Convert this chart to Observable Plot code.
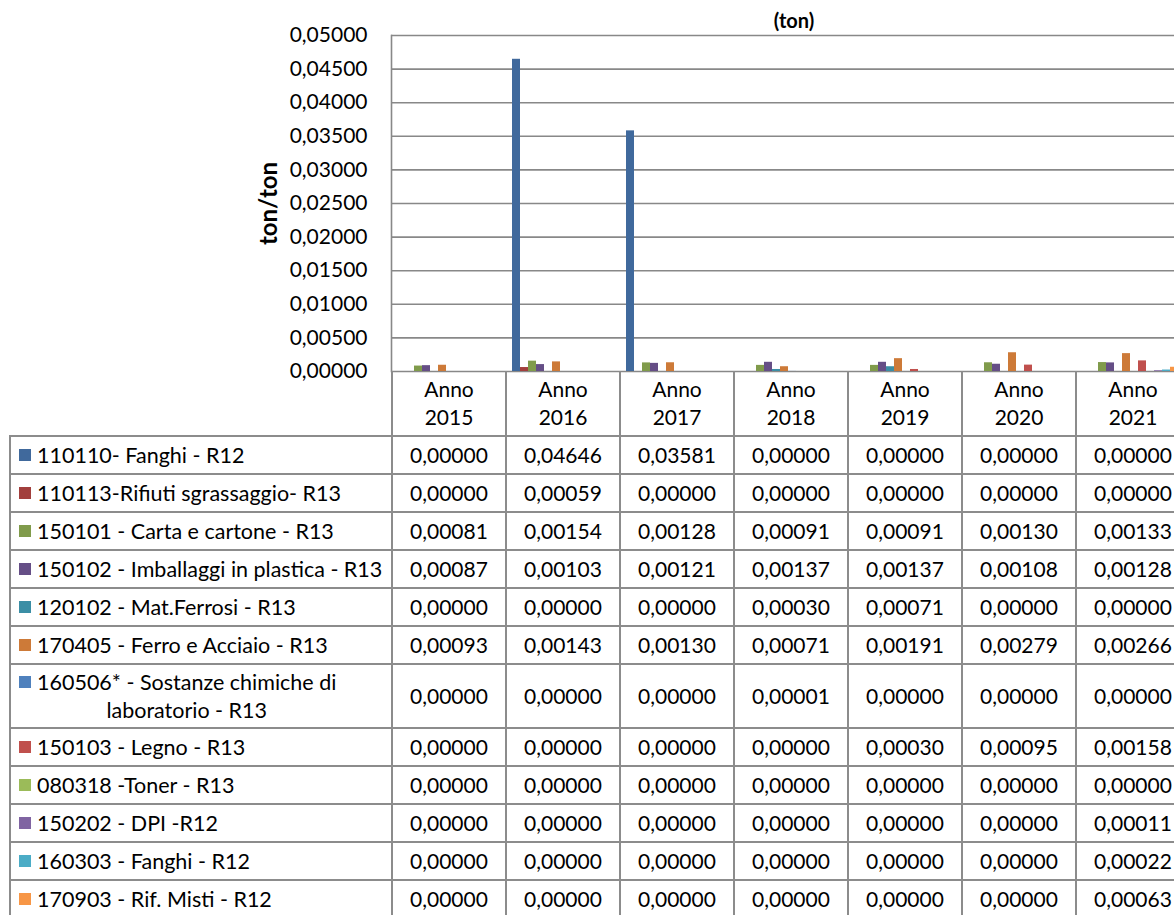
<!DOCTYPE html>
<html>
<head>
<meta charset="utf-8">
<script src="https://cdn.jsdelivr.net/npm/d3@7"></script>
<script src="https://cdn.jsdelivr.net/npm/@observablehq/plot@0.6"></script>
<style>
  html, body { margin: 0; padding: 0; background: #fff; }
  body { width: 1174px; height: 915px; overflow: hidden; font-family: Lato, "Open Sans", sans-serif; color: #000; }
  #wrap { position: relative; width: 1174px; height: 915px; overflow: hidden; }
  #chart { position: absolute; left: 0; top: 0; width: 1189px; height: 376px; }
  #chart svg { max-width: none !important; width: 1189px !important; height: 376px !important; }
  #title { position: absolute; top: 9px; left: 794px; transform: translateX(-50%); font-weight: bold; font-size: 20px; line-height: 22px; white-space: nowrap; }
  #chart g[aria-label="y-axis label"] text { font-weight: bold; font-size: 24px; }
  table { position: absolute; left: 9px; top: 371px; border-collapse: collapse; table-layout: fixed; }
  td { border: 2px solid #8c8c8c; text-align: center; font-size: 21px; padding: 0; box-sizing: border-box; }
  tr.hdr td { height: 65px; line-height: 28px; border-top: none; white-space: pre-line; }
  tr.hdr td.blank { border: none; border-bottom: 2px solid #8c8c8c; }
  tr.row td { height: 38px; line-height: 28px; }
  tr.row.tall td { height: 64px; }
  td.lab { text-align: left; padding-left: 8px; white-space: nowrap; font-size: 21.5px; }
  .key { display: inline-block; width: 12px; height: 12px; margin: 8px 6px 0 0; vertical-align: top; }
  .txt { display: inline-block; text-align: center; white-space: pre-line; vertical-align: top; }
</style>
</head>
<body>
<div id="wrap">
  <div id="chart"></div>
  <div id="title">(ton)</div>
  <table id="tbl"></table>
</div>
<script>
// ---- data ----
const years = ["Anno 2015", "Anno 2016", "Anno 2017", "Anno 2018", "Anno 2019", "Anno 2020", "Anno 2021"];
const series = [
  "110110- Fanghi - R12",
  "110113-Rifiuti sgrassaggio- R13",
  "150101 - Carta e cartone - R13",
  "150102 - Imballaggi in plastica - R13",
  "120102 - Mat.Ferrosi - R13",
  "170405 - Ferro e Acciaio - R13",
  "160506* - Sostanze chimiche di\nlaboratorio - R13",
  "150103 - Legno - R13",
  "080318 -Toner - R13",
  "150202 - DPI -R12",
  "160303 - Fanghi - R12",
  "170903 - Rif. Misti - R12"
];
const v110110 = [0.00000, 0.04646, 0.03581, 0.00000, 0.00000, 0.00000, 0.00000];
const v110113 = [0.00000, 0.00059, 0.00000, 0.00000, 0.00000, 0.00000, 0.00000];
const v150101 = [0.00081, 0.00154, 0.00128, 0.00091, 0.00091, 0.00130, 0.00133];
const v150102 = [0.00087, 0.00103, 0.00121, 0.00137, 0.00137, 0.00108, 0.00128];
const v120102 = [0.00000, 0.00000, 0.00000, 0.00030, 0.00071, 0.00000, 0.00000];
const v170405 = [0.00093, 0.00143, 0.00130, 0.00071, 0.00191, 0.00279, 0.00266];
const v160506 = [0.00000, 0.00000, 0.00000, 0.00001, 0.00000, 0.00000, 0.00000];
const v150103 = [0.00000, 0.00000, 0.00000, 0.00000, 0.00030, 0.00095, 0.00158];
const v080318 = [0.00000, 0.00000, 0.00000, 0.00000, 0.00000, 0.00000, 0.00000];
const v150202 = [0.00000, 0.00000, 0.00000, 0.00000, 0.00000, 0.00000, 0.00011];
const v160303 = [0.00000, 0.00000, 0.00000, 0.00000, 0.00000, 0.00000, 0.00022];
const v170903 = [0.00000, 0.00000, 0.00000, 0.00000, 0.00000, 0.00000, 0.00063];
const seriesValues = [v110110, v110113, v150101, v150102, v120102, v170405, v160506, v150103, v080318, v150202, v160303, v170903];
const colors = ["#40699C", "#A23F3D", "#809B4B", "#654E86", "#3B8EA5", "#CD7A38",
                "#4F81BD", "#C0504D", "#9BBB59", "#8064A2", "#4BACC6", "#F79646"];
const yTicks = [0, 0.005, 0.01, 0.015, 0.02, 0.025, 0.03, 0.035, 0.04, 0.045, 0.05];

// ---- build ----
const fmt = d => d.toFixed(5).replace(".", ",");
const rows = [];
series.forEach((s, i) => years.forEach((y, j) => rows.push({series: s, year: y, value: seriesValues[i][j]})));

const chart = Plot.plot({
  width: 1189,
  height: 376,
  marginLeft: 391,
  marginRight: 0,
  marginTop: 35,
  marginBottom: 5,
  style: {fontFamily: "Lato, sans-serif", fontSize: "21px", color: "#000", background: "transparent", overflow: "visible", maxWidth: "none"},
  fx: {domain: years, padding: 0, axis: null},
  x: {domain: series, paddingInner: 0, paddingOuter: 0.9, align: 0.4, axis: null},
  y: {domain: [0, 0.05], ticks: yTicks, tickFormat: fmt, tickSize: 0, tickPadding: 24,
      label: "ton/ton", labelAnchor: "center", labelArrow: false, labelOffset: 132},
  color: {domain: series, range: colors},
  marks: [
    Plot.ruleY(yTicks, {stroke: "#888888", strokeWidth: 1.6}),
    Plot.barY(rows, {fx: "year", x: "series", y: "value", fill: "series"}),
    Plot.frame({anchor: "left", facetAnchor: "left", stroke: "#888888", strokeWidth: 1.6})
  ]
});
document.getElementById("chart").appendChild(chart);

// data table
const tbl = document.getElementById("tbl");
const colgroup = document.createElement("colgroup");
const c0 = document.createElement("col"); c0.style.width = "382px"; colgroup.appendChild(c0);
years.forEach(() => { const c = document.createElement("col"); c.style.width = "114px"; colgroup.appendChild(c); });
tbl.appendChild(colgroup);
tbl.style.width = (382 + 114 * years.length) + "px";

const hdr = document.createElement("tr"); hdr.className = "hdr";
const blank = document.createElement("td"); blank.className = "blank"; hdr.appendChild(blank);
years.forEach(y => { const td = document.createElement("td"); td.textContent = y.replace(" ", "\n"); hdr.appendChild(td); });
tbl.appendChild(hdr);

series.forEach((s, i) => {
  const tr = document.createElement("tr");
  tr.className = "row" + (s.includes("\n") ? " tall" : "");
  const lab = document.createElement("td"); lab.className = "lab";
  const key = document.createElement("span"); key.className = "key"; key.style.background = colors[i];
  const txt = document.createElement("span"); txt.className = "txt"; txt.textContent = s;
  lab.appendChild(key); lab.appendChild(txt);
  tr.appendChild(lab);
  seriesValues[i].forEach(v => { const td = document.createElement("td"); td.textContent = fmt(v); tr.appendChild(td); });
  tbl.appendChild(tr);
});
</script>
</body>
</html>
